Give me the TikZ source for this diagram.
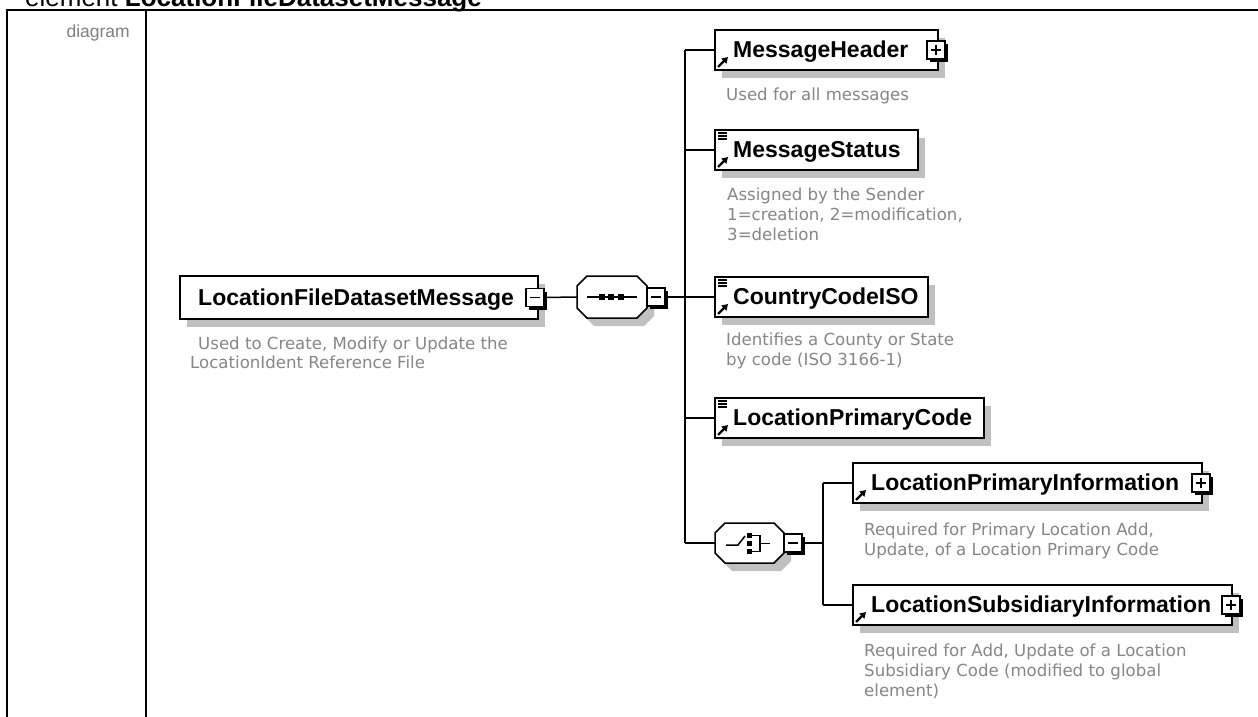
\documentclass[tikz,border=0pt]{standalone}
\usepackage{fontspec}
\setmainfont{Liberation Sans}
\newfontfamily\descfamily{DejaVu Sans}
\usetikzlibrary{arrows.meta,shadows}
\definecolor{shadowgray}{HTML}{C0C0C0}
\definecolor{descgray}{HTML}{868686}
\definecolor{labelgray}{HTML}{808080}
\newcommand\lblfont{\fontsize{23}{27}\selectfont\bfseries}
\newcommand\descfont{\descfamily\fontsize{16.6}{20}\selectfont}
\newcommand\xsdref[1]{\draw[iconarrow] ([xshift=3pt,yshift=3pt]#1.south west) -- ++(10,-10);}
\newcommand\xsdsimple[1]{\draw[iconline] ([xshift=3pt,yshift=-3pt]#1.north west) -- ++(9,0)
  ([xshift=3pt,yshift=-6pt]#1.north west) -- ++(9,0)
  ([xshift=3pt,yshift=-9pt]#1.north west) -- ++(9,0);}
\newcommand\octpath[4]{(#1,#2+10) -- (#1+10,#2) -- (#3-10,#2) -- (#3,#2+10) -- (#3,#4-10) -- (#3-10,#4) -- (#1+10,#4) -- (#1,#4-10) -- cycle}
\begin{document}
\begin{tikzpicture}[x=1pt,y=-1pt,
  elem/.style={draw=black, line width=1.8pt, fill=white, anchor=north west, inner sep=0, outer sep=0,
    drop shadow={opacity=1, fill=shadowgray, shadow xshift=7pt, shadow yshift=-8pt}},
  lbl/.style={anchor=base west, inner sep=0, font=\lblfont, text=black},
  desc/.style={anchor=base west, inner sep=0, font=\descfont, text=descgray},
  conn/.style={line width=1.5pt},
  frameline/.style={line width=2pt},
  iconarrow/.style={line width=2.4pt, -{Triangle[length=6pt,width=7pt]}},
  iconline/.style={line width=1.2pt},
  expbox/.style={draw=black, fill=white, line width=1.3pt, minimum size=18pt, inner sep=0, outer sep=0,
    drop shadow={opacity=1, fill=black, shadow xshift=3pt, shadow yshift=-3pt}},
  minusbox/.style={expbox, path picture={\draw[line width=1.3pt] ([xshift=4pt]path picture bounding box.west) -- ([xshift=-4pt]path picture bounding box.east);}},
  plusbox/.style={expbox, path picture={\draw[line width=1.3pt] ([xshift=4pt]path picture bounding box.west) -- ([xshift=-4pt]path picture bounding box.east) ([yshift=-4pt]path picture bounding box.north) -- ([yshift=4pt]path picture bounding box.south);}},
  octo/.style={draw=black, line width=1.5pt, fill=white},
  octshadow/.style={fill=shadowgray}
]
\useasboundingbox (0,0) rectangle (1258,717);
\fill[white] (0,0) rectangle (1258,717);

% title (cut off at top, as in the reference) and frame
\node[anchor=base west, inner sep=0, font=\fontsize{26}{30}\selectfont] (title) at (25,7) {element \textbf{LocationFileDatasetMessage}};
\draw[frameline] (7,717) -- (7,10) -- (1258,10);
\draw[frameline] (146,10) -- (146,717);
\node[anchor=base east, inner sep=0, font=\fontsize{17.5}{20}\selectfont, text=labelgray] (diag) at (130,38) {diagram};

% root element
\node[elem, minimum width=358pt, minimum height=43pt] (root) at (180,276) {};
\node[lbl] (rootlbl) at (198,305) {LocationFileDatasetMessage};
\node[minusbox] (rootexp) at (535,297.5) {};
\node[desc] (rootd1) at (198,349) {Used to Create, Modify or Update the};
\node[desc] (rootd2) at (190,368.5) {LocationIdent Reference File};

% sequence compositor
\coordinate (seqL) at (577,297);
\fill[octshadow, shift={(7,8)}] \octpath{577}{276}{647}{318};
\draw[octo] \octpath{577}{276}{647}{318};
\draw[conn] (587,297) -- (637,297);
\fill (598.5,294) rectangle +(6,6);
\fill (608,294) rectangle +(6,6);
\fill (618,294) rectangle +(6,6);
\node[minusbox] (seqexp) at (656,297) {};
\draw[conn] (rootexp.east) -- (seqL);

% trunk
\coordinate (tMH) at (685,50);
\coordinate (tMS) at (685,150);
\coordinate (tCC) at (685,297);
\coordinate (tLPC) at (685,418);
\coordinate (tCH) at (685,543);
\draw[conn] (seqexp.east) -- (tCC);
\draw[conn] (tMH) -- (tCH);

% MessageHeader
\node[elem, minimum width=223pt, minimum height=40pt] (mh) at (715,30) {};
\node[lbl] (mhlbl) at (733,57.5) {MessageHeader};
\xsdref{mh}
\node[plusbox] (mhexp) at (936,50) {};
\node[desc] (mhd1) at (726,100) {Used for all messages};
\draw[conn] (tMH) -- (mh.west);

% MessageStatus
\node[elem, minimum width=203pt, minimum height=40pt] (ms) at (715,130) {};
\node[lbl] (mslbl) at (733,157.5) {MessageStatus};
\xsdref{ms}
\xsdsimple{ms}
\node[desc] (msd1) at (727,200.5) {Assigned by the Sender};
\node[desc] (msd2) at (727,220.5) {1=creation, 2=modification,};
\node[desc] (msd3) at (727,240.5) {3=deletion};
\draw[conn] (tMS) -- (ms.west);

% CountryCodeISO
\node[elem, minimum width=213pt, minimum height=40pt] (cc) at (715,277) {};
\node[lbl] (cclbl) at (733,304.5) {CountryCodeISO};
\xsdref{cc}
\xsdsimple{cc}
\node[desc] (ccd1) at (726,345.5) {Identifies a County or State};
\node[desc] (ccd2) at (726,365.5) {by code (ISO 3166-1)};
\draw[conn] (tCC) -- (cc.west);

% LocationPrimaryCode
\node[elem, minimum width=269pt, minimum height=40pt] (lpc) at (715,398) {};
\node[lbl] (lpclbl) at (733,425.5) {LocationPrimaryCode};
\xsdref{lpc}
\xsdsimple{lpc}
\draw[conn] (tLPC) -- (lpc.west);

% choice compositor
\coordinate (chL) at (715,543);
\fill[octshadow, shift={(7,8)}] \octpath{715}{523}{784}{563};
\draw[octo] \octpath{715}{523}{784}{563};
\draw[conn] (726,545) -- (738,545) -- (745,536);
\fill (747,533) rectangle +(5,5);
\fill (747,541) rectangle +(5,5);
\fill (747,549) rectangle +(5,5);
\draw[line width=1.3pt] (752,535.5) -- (760,535.5) -- (760,551.5) -- (752,551.5);
\draw[line width=1.3pt] (760,543.5) -- (770,543.5);
\node[minusbox] (chexp) at (793,543) {};
\draw[conn] (tCH) -- (chL);

\coordinate (uLPI) at (823,483);
\coordinate (uLSI) at (823,605);
\coordinate (uCH) at (823,543);
\draw[conn] (chexp.east) -- (uCH);
\draw[conn] (uLPI) -- (uLSI);

% LocationPrimaryInformation
\node[elem, minimum width=349pt, minimum height=40pt] (lpi) at (853,463) {};
\node[lbl] (lpilbl) at (871,490.5) {LocationPrimaryInformation};
\xsdref{lpi}
\node[plusbox] (lpiexp) at (1201,483) {};
\node[desc] (lpid1) at (864,535) {Required for Primary Location Add,};
\node[desc] (lpid2) at (864,555) {Update, of a Location Primary Code};
\draw[conn] (uLPI) -- (lpi.west);

% LocationSubsidiaryInformation
\node[elem, minimum width=379pt, minimum height=40pt] (lsi) at (853,585) {};
\node[lbl] (lsilbl) at (871,612.5) {LocationSubsidiaryInformation};
\xsdref{lsi}
\node[plusbox] (lsiexp) at (1231,605) {};
\node[desc] (lsid1) at (864,656) {Required for Add, Update of a Location};
\node[desc] (lsid2) at (864,676) {Subsidiary Code (modified to global};
\node[desc] (lsid3) at (864,696) {element)};
\draw[conn] (uLSI) -- (lsi.west);
\end{tikzpicture}
\end{document}
